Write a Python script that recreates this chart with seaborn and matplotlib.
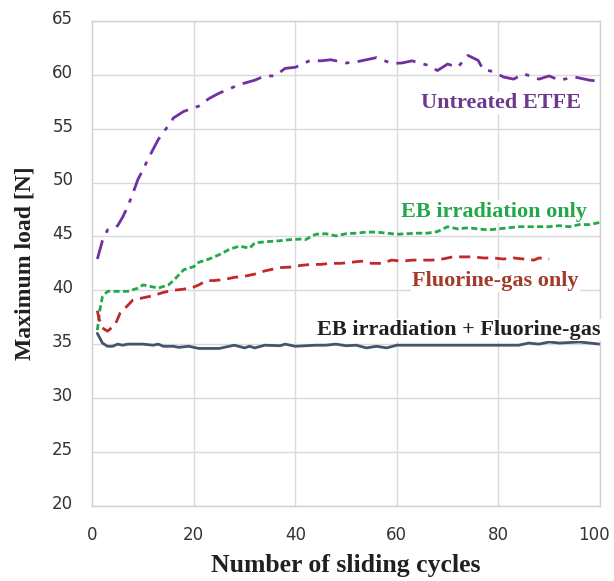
import matplotlib
matplotlib.use("Agg")
from matplotlib import pyplot as plt
from matplotlib.transforms import ScaledTranslation
import seaborn as sns
import pandas as pd

# cycles / loads
untreated_x = [1, 2, 3, 4, 5, 6, 7, 8, 9, 10, 11, 12, 13, 15, 16, 18, 21, 23, 25, 27, 29, 32, 34, 36, 38, 40,
               43, 45, 47, 50, 52, 54, 56, 59, 61, 63, 66, 68, 70, 72, 74, 76, 77, 79, 81, 83, 85, 88, 90,
               92, 95, 98, 100]
untreated_y = [42.9, 44.6, 45.6, 45.7, 46.0, 46.8, 47.8, 49.0, 50.3, 51.2, 52.2, 53.1, 54.0, 55.3, 56.0, 56.6,
               57.1, 57.8, 58.3, 58.7, 59.1, 59.5, 59.9, 59.9, 60.6, 60.7, 61.35, 61.3, 61.4, 61.1, 61.2,
               61.4, 61.6, 61.05, 61.1, 61.3, 60.9, 60.4, 61.0, 60.7, 61.8, 61.35, 60.5, 60.3, 59.8, 59.6,
               60.1, 59.6, 59.9, 59.5, 59.8, 59.5, 59.4]

eb_x = [1, 1.5, 2, 3, 5, 7, 9, 10, 12, 13, 15, 16, 18, 20, 21, 23, 25, 27, 29, 31, 32, 34, 37, 39, 41, 42,
        44, 46, 48, 50, 52, 54, 56, 58, 60, 62, 64, 66, 68, 70, 72, 74, 76, 78, 80, 82, 84, 86, 88, 90,
        92, 94, 96, 98, 100]
eb_y = [36.3, 38.2, 39.4, 39.9, 39.9, 39.9, 40.2, 40.5, 40.3, 40.2, 40.5, 40.9, 41.9, 42.2, 42.6, 42.9, 43.3,
        43.8, 44.1, 43.9, 44.4, 44.5, 44.6, 44.7, 44.75, 44.7, 45.2, 45.25, 45.05, 45.25, 45.3, 45.4, 45.4,
        45.3, 45.2, 45.25, 45.3, 45.3, 45.45, 45.9, 45.7, 45.8, 45.7, 45.6, 45.7, 45.8, 45.9, 45.9, 45.9,
        45.9, 46.0, 45.9, 46.1, 46.1, 46.3]

fg_x = [1, 1.3, 2, 3, 4.5, 5.5, 7, 8, 10, 12, 14, 16, 18, 20, 21, 22.5, 24, 26, 28, 30, 32, 34, 37, 39, 41,
        43, 45, 47, 49, 51, 53, 55, 57, 59, 61, 63, 65, 67, 69, 71, 73, 75, 77, 79, 81, 83, 85, 87, 88, 90]
fg_y = [38.1, 37.4, 36.5, 36.2, 36.8, 37.9, 38.6, 39.1, 39.3, 39.5, 39.8, 40.0, 40.1, 40.3, 40.5, 40.9, 40.9,
        41.0, 41.2, 41.3, 41.5, 41.8, 42.1, 42.15, 42.3, 42.4, 42.4, 42.5, 42.5, 42.6, 42.7, 42.5, 42.5,
        42.8, 42.7, 42.8, 42.8, 42.8, 42.9, 43.1, 43.1, 43.1, 43.0, 43.0, 42.9, 43.0, 42.9, 42.8, 43.0, 42.9]

both_x = [1, 2, 3, 4, 5, 6, 7, 10, 12, 13, 14, 16, 17, 19, 21, 23, 25, 27, 28, 30, 31, 32, 34, 37, 38, 40,
          42, 44, 46, 48, 50, 52, 54, 56, 58, 60, 62, 64, 66, 68, 70, 72, 74, 76, 78, 80, 82, 84, 86, 88,
          90, 92, 94, 96, 98, 100]
both_y = [36.0, 35.1, 34.8, 34.8, 35.0, 34.9, 35.0, 35.0, 34.9, 35.0, 34.8, 34.8, 34.7, 34.8, 34.6, 34.6,
          34.6, 34.8, 34.9, 34.65, 34.8, 34.65, 34.9, 34.85, 35.0, 34.8, 34.85, 34.9, 34.9, 35.0, 34.85,
          34.9, 34.65, 34.8, 34.65, 34.9, 34.9, 34.9, 34.9, 34.9, 34.9, 34.9, 34.9, 34.9, 34.9, 34.9, 34.9,
          34.9, 35.1, 35.0, 35.2, 35.1, 35.15, 35.2, 35.1, 35.0]

sns.set_style("whitegrid")
plt.rcParams['font.family'] = ['DejaVu Sans']

fig = plt.figure(figsize=(6.14, 5.81), dpi=100)
ax = fig.add_axes([0.1503, 0.1296, 0.8267, 0.8343])

series = [
    (untreated_x, untreated_y, "#7030a0", (0, (7, 3, 1.5, 3))),
    (eb_x, eb_y, "#22a84a", (0, (2.2, 1.2))),
    (fg_x, fg_y, "#c0282a", (0, (4, 2.5))),
    (both_x, both_y, "#44546a", "-"),
]
for xs, ys, col, ls in series:
    df = pd.DataFrame({"cycle": xs, "load": ys})
    sns.lineplot(data=df, x="cycle", y="load", color=col, linewidth=2.0, linestyle=ls, ax=ax)

ax.set_xlim(0, 100)
ax.set_ylim(20, 65)
ax.set_xticks(range(0, 101, 20))
ax.set_yticks(range(20, 66, 5))
ax.grid(True, color="#d9d9d9", linewidth=1.0)
for s in ax.spines.values():
    s.set_color("#d0d0d0")
    s.set_linewidth(1.0)
ax.tick_params(axis="both", length=0, labelsize=12, labelcolor="#333333")
ax.tick_params(axis="x", pad=14.5)
ax.tick_params(axis="y", pad=13.7)
# y tick labels sit a little above their grid lines
for t in ax.get_yticklabels():
    t.set_transform(t.get_transform() + ScaledTranslation(0, 3 / 72, fig.dpi_scale_trans))
# keep "100" inside the figure edge
last = ax.get_xticklabels()[-1]
last.set_transform(last.get_transform() + ScaledTranslation(-4 / 72, 0, fig.dpi_scale_trans))

lab = dict(family="Liberation Serif", fontweight="bold", color="#231f20")
ax.set_xlabel("Number of sliding cycles", labelpad=7, fontsize=18.5, **lab)
ax.set_ylabel("Maximum load [N]", labelpad=12, fontsize=17, **lab)

box = dict(facecolor="white", edgecolor="none", pad=1)
txt = dict(family="Liberation Serif", fontweight="bold", fontsize=16, ha="center", va="center", bbox=box)
ax.text(80.5, 57.4, "Untreated ETFE", color="#6b3a8f", **txt)
ax.text(79.2, 47.3, "EB irradiation only", color="#22a84a", **txt)
ax.text(79.4, 40.9, "Fluorine-gas only", color="#a33a2a", **txt)
ax.text(72.2, 36.3, "EB irradiation + Fluorine-gas", color="#231f20", **txt)

fig.savefig("out.png", dpi=100)
